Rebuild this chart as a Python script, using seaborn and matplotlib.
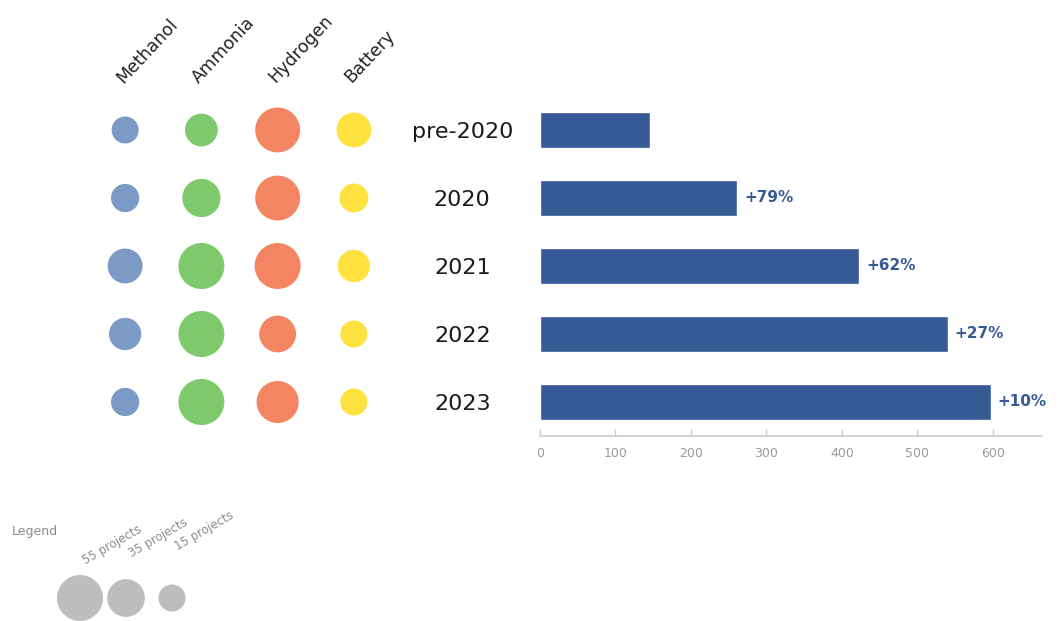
import matplotlib
matplotlib.use('Agg')
import matplotlib.pyplot as plt
import seaborn as sns
import pandas as pd

# values
periods = ["pre-2020", "2020", "2021", "2022", "2023"]
fuels = ["Methanol", "Ammonia", "Hydrogen", "Battery"]
methanol = [15, 17, 29, 24, 17]
ammonia = [25, 36, 55, 55, 55]
hydrogen = [52, 52, 55, 33, 45]
battery = [29, 18, 24, 9, 8]
totals = [146, 261, 423, 540, 597]
growth = ["", "+79%", "+62%", "+27%", "+10%"]
legend_counts = [55, 35, 15]
legend_labels = ["55 projects", "35 projects", "15 projects"]
x_ticks = [0, 100, 200, 300, 400, 500, 600]

fuel_colors = {"Methanol": "#7b9ac6", "Ammonia": "#7dc96c",
               "Hydrogen": "#f38562", "Battery": "#ffe23f"}
bar_color = "#365a96"
legend_gray = "#bcbdbf"
size_range = (378, 1097)
size_norm = (15, 55)

sns.set_style("white")
plt.rcParams['font.family'] = ['DejaVu Sans']

fig = plt.figure(figsize=(10.58, 6.21), dpi=100)
W, H = 1058, 621

# bubble grid
ax_b = fig.add_axes([87 / W, 1 - 436 / H, 305 / W, 340 / H])
df = pd.DataFrame({"period": periods, "Methanol": methanol, "Ammonia": ammonia,
                   "Hydrogen": hydrogen, "Battery": battery})
long = df.melt(id_vars="period", var_name="fuel", value_name="projects")
sns.scatterplot(data=long, x="fuel", y="period", hue="fuel", palette=fuel_colors,
                size="projects", sizes=size_range, size_norm=size_norm,
                linewidth=0, legend=False, ax=ax_b, clip_on=False)
ax_b.set_xlim(-0.5, 3.5)
ax_b.set_ylim(4.5, -0.5)
ax_b.axis('off')
for i, f in enumerate(fuels):
    ax_b.annotate(f, xy=(i, 1), xycoords=('data', 'axes fraction'),
                  xytext=(-1.5, 9), textcoords='offset points', rotation=47,
                  rotation_mode='anchor', ha='left', va='baseline',
                  fontsize=12.5, color='#222222')

# bars
ax_r = fig.add_axes([540 / W, 1 - 436 / H, 502 / W, 340 / H])
sns.barplot(x=totals, y=periods, orient='h', color=bar_color, saturation=1,
            width=0.53, ax=ax_r)
ax_r.bar_label(ax_r.containers[0], labels=growth, padding=5, color=bar_color,
               fontsize=11, fontweight='bold')
ax_r.set_xlim(0, 665)
ax_r.set_xticks(x_ticks)
ax_r.set_xlabel('')
ax_r.set_ylabel('')
for s in ['top', 'right', 'left']:
    ax_r.spines[s].set_visible(False)
ax_r.spines['bottom'].set_color('#cccccc')
ax_r.spines['bottom'].set_linewidth(1.2)
ax_r.tick_params(axis='x', direction='in', length=5, width=1, color='#cccccc',
                 labelcolor='#9a9a9a', labelsize=9, pad=8, bottom=True)
ax_r.tick_params(axis='y', length=0, pad=56, labelsize=16, labelcolor='#1a1a1a')
for lab in ax_r.get_yticklabels():
    lab.set_ha('center')

# size legend
ax_l = fig.add_axes([57 / W, 1 - 618 / H, 138 / W, 40 / H])
leg = pd.DataFrame({"label": legend_labels, "projects": legend_counts, "row": [0] * 3})
sns.scatterplot(data=leg, x="label", y="row", size="projects", sizes=size_range,
                size_norm=size_norm, color=legend_gray, linewidth=0,
                legend=False, ax=ax_l, clip_on=False)
ax_l.set_xlim(-0.5, 2.5)
ax_l.set_ylim(-0.5, 0.5)
ax_l.axis('off')
for i, lab in enumerate(legend_labels):
    ax_l.annotate(lab, xy=(i, 0), xytext=(4, 24 + 5 * i), textcoords='offset points',
                  rotation=30, rotation_mode='anchor', ha='left', va='baseline',
                  fontsize=8.5, color='#8c8c8c')
fig.text(12 / W, 1 - 532 / H, "Legend", fontsize=9, color='#8c8c8c',
         ha='left', va='center')

fig.savefig("out.png", dpi=100)
